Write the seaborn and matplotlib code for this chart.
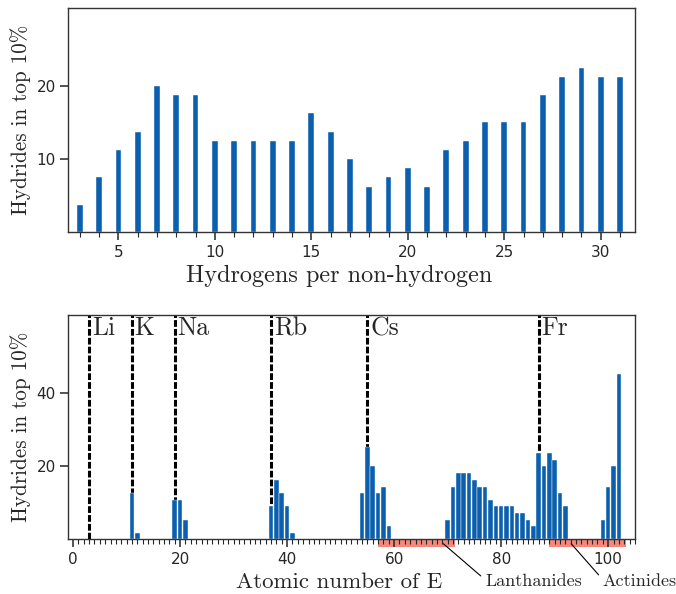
import numpy as np
import matplotlib
matplotlib.use("Agg")
import matplotlib.pyplot as plt
from matplotlib.ticker import MultipleLocator, FixedLocator
import seaborn as sns

sns.set_style("ticks")

# ---------------------------
# Data
# ---------------------------
h_per_atom = [3, 4, 5, 6, 7, 8, 9, 10, 11, 12, 13, 14, 15, 16, 17,
              18, 19, 20, 21, 22, 23, 24, 25, 26, 27, 28, 29, 30, 31]
h_top_pct = [3.75, 7.5, 11.25, 13.75, 20.0, 18.75, 18.75, 12.5, 12.5, 12.5, 12.5, 12.5, 16.25, 13.75, 10.0,
             6.25, 7.5, 8.75, 6.25, 11.25, 12.5, 15.0, 15.0, 15.0, 18.75, 21.25, 22.5, 21.25, 21.25]

atomic_z = [11, 12, 19, 20, 21, 37, 38, 39, 40, 41,
            54, 55, 56, 57, 58, 59,
            70, 71, 72, 73, 74, 75, 76, 77, 78, 79, 80, 81, 82, 83, 84, 85, 86,
            87, 88, 89, 90, 91, 92, 99, 100, 101, 102]
z_top_pct = [12.6, 1.8, 10.8, 10.8, 5.4, 9.0, 16.2, 12.6, 9.0, 1.8,
             12.6, 25.3, 19.9, 12.6, 14.4, 3.6,
             5.4, 14.4, 18.1, 18.1, 18.1, 16.2, 14.4, 14.4, 10.8, 9.0, 9.0, 9.0, 9.0, 7.2, 7.2, 5.4, 3.6,
             23.5, 19.9, 23.5, 21.7, 12.6, 9.0, 5.4, 14.4, 19.9, 45.1]

alkali_names = ["Li", "K", "Na", "Rb", "Cs", "Fr"]
alkali_z = [3, 11, 19, 37, 55, 87]

series_names = ["Lanthanides", "Actinides"]
series_ranges = [(57, 71), (89, 103)]

bar_color = "#0b5fae"
serif = "cmr10"

fig = plt.figure(figsize=(6.76, 5.94), dpi=100)
ax1 = fig.add_axes([0.101, 0.609, 0.839, 0.377])
ax2 = fig.add_axes([0.101, 0.092, 0.839, 0.378])

# ---------------------------
# Top: hydrogens per non-hydrogen
# ---------------------------
sns.barplot(x=h_per_atom, y=h_top_pct, native_scale=True, width=0.3,
            color=bar_color, saturation=1, edgecolor="white", linewidth=0.3, ax=ax1)
ax1.set_xlim(2.4, 31.8)
ax1.set_ylim(0, 30.6)
ax1.xaxis.set_major_locator(MultipleLocator(5))
ax1.xaxis.set_minor_locator(MultipleLocator(1))
ax1.yaxis.set_major_locator(FixedLocator([10, 20]))
ax1.set_xlabel("Hydrogens per non-hydrogen", fontfamily=serif, fontsize=17.5)
ax1.set_ylabel("Hydrides in top 10%", fontfamily=serif, fontsize=15.2)

# ---------------------------
# Bottom: atomic number of E
# ---------------------------
for name, z in zip(alkali_names, alkali_z):
    ax2.axvline(z, color="black", lw=2.2, dashes=(2.2, 0.7), zorder=1)
    ax2.text(z + 0.5, 60.8, name, fontfamily=serif, fontsize=18.5, va="top", ha="left")

sns.barplot(x=atomic_z, y=z_top_pct, native_scale=True, width=0.85,
            color=bar_color, saturation=1, edgecolor="white", linewidth=0.3, ax=ax2, zorder=2)
ax2.set_xlim(-0.9, 105.1)
ax2.set_ylim(0, 61.2)
ax2.xaxis.set_major_locator(MultipleLocator(20))
ax2.xaxis.set_minor_locator(MultipleLocator(1))
ax2.yaxis.set_major_locator(FixedLocator([20, 40]))
ax2.set_xlabel("Atomic number of E", fontfamily=serif, fontsize=16.5)
ax2.set_ylabel("Hydrides in top 10%", fontfamily=serif, fontsize=15.2)

text_pos = [(77.0, -11.4), (99.0, -11.4)]
arrow_at = [(69.2, -1.2), (93.1, -1.2)]
for name, (z0, z1), xy, xyt in zip(series_names, series_ranges, arrow_at, text_pos):
    ax2.axvspan(z0 - 0.1, z1 + 0.4, ymin=-0.036, ymax=0, color="#f6877b",
                clip_on=False, zorder=0.5, lw=0)
    ax2.annotate(name, xy=xy, xytext=xyt, fontfamily=serif, fontsize=13,
                 va="center", ha="left", annotation_clip=False,
                 arrowprops=dict(arrowstyle="-", color="black", lw=0.8,
                                 relpos=(0, 0.6), shrinkA=1, shrinkB=0))

for ax in (ax1, ax2):
    ax.xaxis.label.set_x(0.477)
    ax.tick_params(axis="both", which="major", labelsize=11, length=5.5, width=1.1)
    ax.tick_params(axis="x", which="minor", length=3.5, width=0.8)
    for s in ax.spines.values():
        s.set_linewidth(1.0)
        s.set_color("#333333")

fig.savefig("out.png", dpi=100)
